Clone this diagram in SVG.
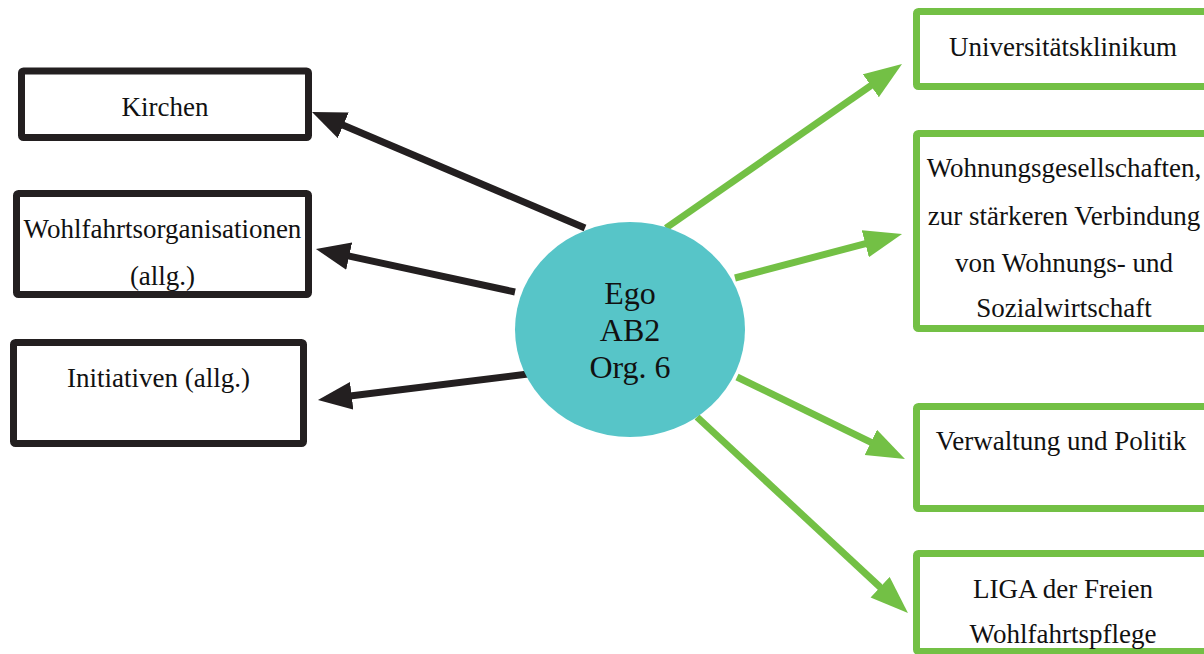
<svg xmlns="http://www.w3.org/2000/svg" width="1204" height="654" viewBox="0 0 1204 654">
  <style>
    .box { fill: #ffffff; stroke-width: 7; }
    .dark { stroke: #231f20; }
    .green { stroke: #73c045; }
    .label { font-family: "Liberation Serif", "Times New Roman", serif; font-size: 27px; fill: #111111; text-anchor: middle; }
    .ego { font-family: "Liberation Serif", "Times New Roman", serif; font-size: 32px; fill: #111111; text-anchor: middle; }
    .edge { fill: none; stroke-width: 7; }
  </style>
  <defs>
    <!-- lines stop 20px short of the tip; the head carries on to it -->
    <marker id="head-dark" markerUnits="userSpaceOnUse" markerWidth="40" markerHeight="30" refX="14" refY="14" orient="auto">
      <path d="M0,0 L34,14 L0,28 Z" fill="#231f20"/>
    </marker>
    <marker id="head-green" markerUnits="userSpaceOnUse" markerWidth="40" markerHeight="30" refX="18" refY="14" orient="auto">
      <path d="M0,0 L38,14 L0,28 Z" fill="#73c045"/>
    </marker>
  </defs>
  <rect width="1204" height="654" fill="#ffffff"/>

  <!-- connectors -->
  <g id="connectors">
    <line class="edge dark" x1="585" y1="228" x2="330.4" y2="119.8" marker-end="url(#head-dark)"/>
    <line class="edge dark" x1="515" y1="292" x2="335.5" y2="253.2" marker-end="url(#head-dark)"/>
    <line class="edge dark" x1="528" y1="374" x2="337.8" y2="397.5" marker-end="url(#head-dark)"/>
    <line class="edge green" x1="666" y1="228" x2="885.6" y2="75.4" marker-end="url(#head-green)"/>
    <line class="edge green" x1="735" y1="278" x2="882.7" y2="239.1" marker-end="url(#head-green)"/>
    <line class="edge green" x1="737" y1="377" x2="887" y2="450.2" marker-end="url(#head-green)"/>
    <line class="edge green" x1="697" y1="417" x2="893.3" y2="599.4" marker-end="url(#head-green)"/>
  </g>

  <!-- left column -->
  <g id="kirchen">
    <rect class="box dark" x="21.5" y="71" width="287" height="66.5" rx="2"/>
    <text class="label" x="165" y="116">Kirchen</text>
  </g>
  <g id="wohlfahrtsorganisationen">
    <rect class="box dark" x="16.5" y="193.5" width="292" height="101" rx="2"/>
    <text class="label" x="162.5" y="238">Wohlfahrtsorganisationen</text>
    <text class="label" x="162.5" y="285">(allg.)</text>
  </g>
  <g id="initiativen">
    <rect class="box dark" x="13.5" y="342.5" width="290" height="101" rx="2"/>
    <text class="label" x="158.5" y="387">Initiativen (allg.)</text>
  </g>

  <!-- centre -->
  <g id="ego">
    <ellipse cx="630" cy="329.5" rx="115" ry="107.5" fill="#57c5c8"/>
    <text class="ego" x="630" y="304">Ego</text>
    <text class="ego" x="630" y="341">AB2</text>
    <text class="ego" x="630" y="378">Org. 6</text>
  </g>

  <!-- right column -->
  <g id="universitaetsklinikum">
    <rect class="box green" x="916.5" y="11.5" width="295" height="75" rx="2"/>
    <text class="label" x="1063" y="56">Universitätsklinikum</text>
  </g>
  <g id="wohnungsgesellschaften">
    <rect class="box green" x="916.5" y="133.5" width="295" height="195" rx="2"/>
    <text class="label" x="1064" y="177">Wohnungsgesellschaften,</text>
    <text class="label" x="1064" y="225">zur stärkeren Verbindung</text>
    <text class="label" x="1064" y="272">von Wohnungs- und</text>
    <text class="label" x="1064" y="317">Sozialwirtschaft</text>
  </g>
  <g id="verwaltung">
    <rect class="box green" x="916.5" y="406.5" width="295" height="102" rx="2"/>
    <text class="label" x="1061" y="450">Verwaltung und Politik</text>
  </g>
  <g id="liga">
    <rect class="box green" x="916.5" y="553.5" width="295" height="98" rx="2"/>
    <text class="label" x="1063" y="598">LIGA der Freien</text>
    <text class="label" x="1063" y="643">Wohlfahrtspflege</text>
  </g>
</svg>
